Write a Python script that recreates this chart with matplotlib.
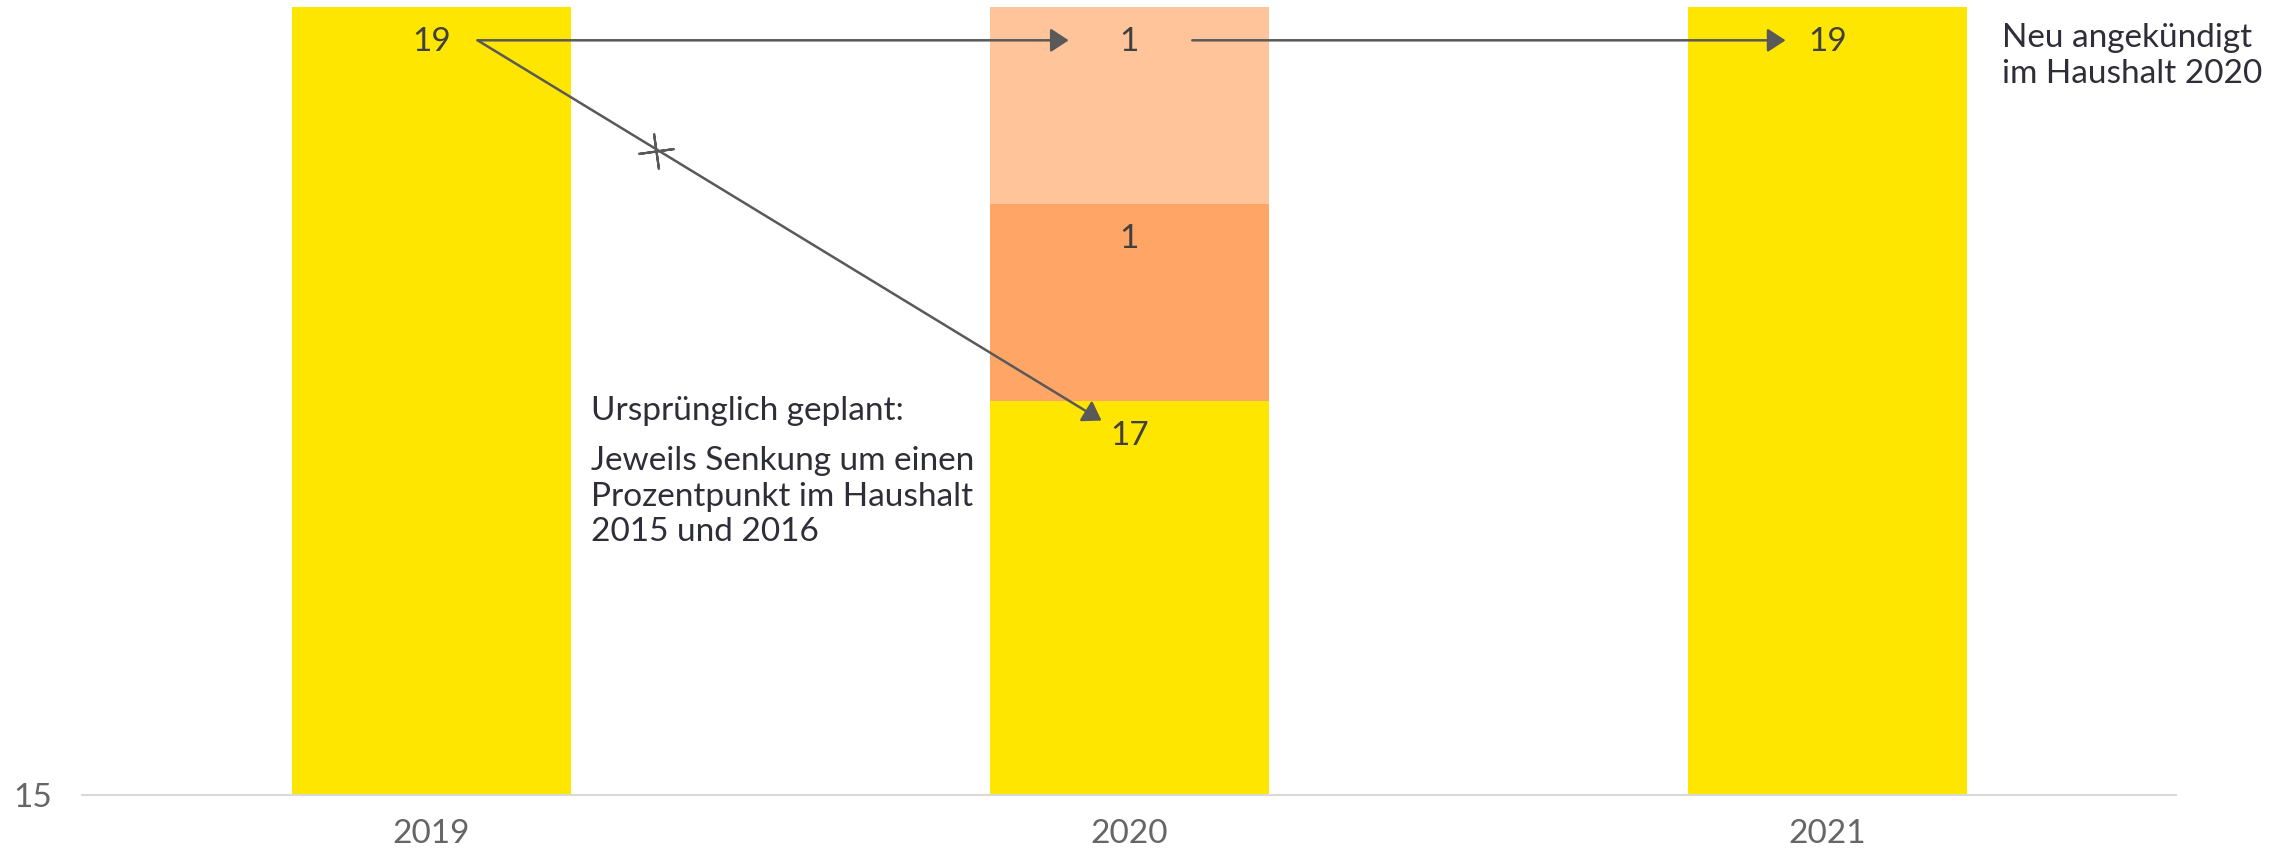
import matplotlib.pyplot as plt
import numpy as np
from matplotlib.patches import FancyArrowPatch

plt.rcParams['font.family'] = ['Lato', 'DejaVu Sans']

years = ['2019', '2020', '2021']
base_vals = [19, 17, 19]
drop_2016 = [0, 1, 0]
drop_2015 = [0, 1, 0]
y_min = 15
y_max = 19

c_yellow = '#FFE600'
c_dark = '#FFA566'
c_light = '#FFC499'
c_text = '#2E2E38'
c_num = '#404040'
c_arrow = '#595959'

fig = plt.figure(figsize=(22.91, 8.52), dpi=100)
ax = fig.add_axes([0.036, 0.067, 0.914, 0.925])

x = np.arange(len(years))
w = 0.4
base = np.array(base_vals)
mid = np.array(drop_2016)
top = np.array(drop_2015)

ax.bar(x, base, w, color=c_yellow, linewidth=0)
ax.bar(x, mid, w, bottom=base, color=c_dark, linewidth=0)
ax.bar(x, top, w, bottom=base + mid, color=c_light, linewidth=0)

ax.set_xlim(-0.5, 2.5)
ax.set_ylim(y_min, y_max)

# value labels, slightly below the top of each segment
off = 0.18
fs = 24
for i in range(len(years)):
    ax.text(x[i], base[i] - off, str(base[i]), ha='center', va='center',
            fontsize=fs, color=c_num)
    if mid[i]:
        ax.text(x[i], base[i] + mid[i] - off, str(mid[i]), ha='center', va='center',
                fontsize=fs, color=c_num)
    if top[i]:
        ax.text(x[i], base[i] + mid[i] + top[i] - off, str(top[i]), ha='center',
                va='center', fontsize=fs, color=c_num)

def arrow(p0, p1):
    a = FancyArrowPatch(p0, p1, arrowstyle='-|>,head_length=0.55,head_width=0.36',
                        mutation_scale=20, color=c_arrow, linewidth=1.8,
                        shrinkA=0, shrinkB=0)
    ax.add_patch(a)

arrow((0.066, 18.83), (0.913, 18.83))
arrow((1.09, 18.83), (1.94, 18.83))
arrow((0.066, 18.83), (0.96, 16.9))
ax.plot([0.321], [18.27], marker=(4, 2, 8), markersize=26, color=c_arrow,
        markeredgewidth=1.6)

ax.text(0.229, 16.95, 'Ursprünglich geplant:', ha='left', va='center',
        fontsize=fs, color=c_text)
ax.text(0.229, 16.77, 'Jeweils Senkung um einen\nProzentpunkt im Haushalt\n2015 und 2016',
        ha='left', va='top', fontsize=fs, color=c_text, linespacing=1.23)
ax.text(2.25, 18.92, 'Neu angekündigt\nim Haushalt 2020', ha='left', va='top',
        fontsize=fs, color=c_text, linespacing=1.25)

ax.set_xticks(x)
ax.set_xticklabels(years)
ax.set_yticks([y_min])
ax.tick_params(axis='both', length=0, labelsize=fs, labelcolor='#666666')
ax.tick_params(axis='x', pad=17)
ax.tick_params(axis='y', pad=22)
for s in ['top', 'right', 'left']:
    ax.spines[s].set_visible(False)
ax.spines['bottom'].set_color('#D9D9D9')
ax.spines['bottom'].set_linewidth(1.5)

plt.savefig('out.png', dpi=100)
